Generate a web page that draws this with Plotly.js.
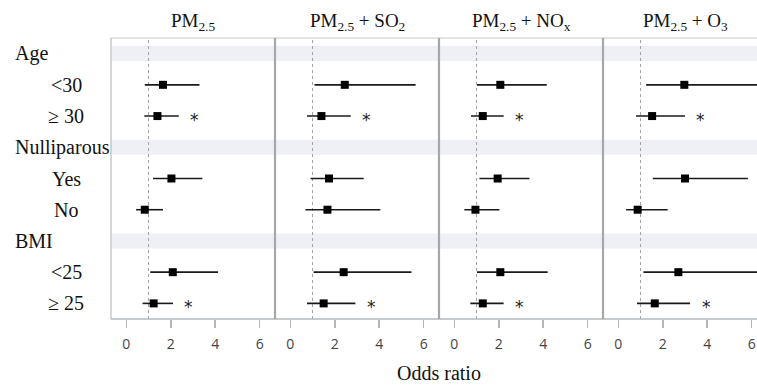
<!DOCTYPE html>
<html>
<head>
<meta charset="utf-8">
<script src="https://cdn.plot.ly/plotly-3.0.1.min.js"></script>
<style>html,body{margin:0;padding:0;background:#fff;}#chart{width:757px;height:385px;}</style>
</head>
<body>
<div id="chart"></div>
<script>
// ---- data ----
const panelTitles = ['PM<sub>2.5</sub>', 'PM<sub>2.5</sub> + SO<sub>2</sub>', 'PM<sub>2.5</sub> + NO<sub>x</sub>', 'PM<sub>2.5</sub> + O<sub>3</sub>'];
const groupLabels = ['Age', 'Nulliparous', 'BMI'];
const groupRows = [0, 3, 6];
const subLabels = ['<30', '\u2265 30', 'Yes', 'No', '<25', '\u2265 25'];
const subRows = [1, 2, 4, 5, 7, 8];
const significant = [false, true, false, false, false, true];

const pm25Est = [1.65, 1.40, 2.03, 0.83, 2.09, 1.23];
const pm25Lo  = [0.83, 0.81, 1.20, 0.44, 1.08, 0.73];
const pm25Hi  = [3.29, 2.36, 3.42, 1.65, 4.13, 2.10];

const so2Est = [2.45, 1.40, 1.74, 1.67, 2.40, 1.50];
const so2Lo  = [1.09, 0.75, 0.91, 0.68, 1.05, 0.75];
const so2Hi  = [5.64, 2.72, 3.30, 4.05, 5.45, 2.93];

const noxEst = [2.07, 1.28, 1.95, 0.95, 2.07, 1.28];
const noxLo  = [1.02, 0.75, 1.13, 0.45, 1.02, 0.72];
const noxHi  = [4.16, 2.22, 3.38, 2.03, 4.20, 2.22];

const o3Est = [2.97, 1.52, 3.00, 0.87, 2.70, 1.64];
const o3Lo  = [1.25, 0.80, 1.55, 0.35, 1.13, 0.84];
const o3Hi  = [6.60, 3.00, 5.83, 2.22, 6.50, 3.23];

const xTicks = [0, 2, 4, 6];
const nullValue = 1;

// ---- layout constants ----
const W = 757, H = 385;
const ML = 111, MR = 0, MT = 38, MB = 66;
const plotW = W - ML - MR;
const panelPx = 164;
const unitPx = 22.22;
const xMin = -0.69;
const serif = 'Liberation Serif, Times New Roman, serif';
const sans = 'Open Sans, Segoe UI, DejaVu Sans, sans-serif';

const panels = [
  {est: pm25Est, lo: pm25Lo, hi: pm25Hi},
  {est: so2Est, lo: so2Lo, hi: so2Hi},
  {est: noxEst, lo: noxLo, hi: noxHi},
  {est: o3Est, lo: o3Lo, hi: o3Hi}
];

const px2paper = p => (p - ML) / plotW;
const traces = [];
const layout = {
  width: W, height: H,
  margin: {l: ML, r: MR, t: MT, b: MB, pad: 0},
  paper_bgcolor: '#fff', plot_bgcolor: '#fff',
  showlegend: false,
  yaxis: {range: [8.5, -0.5], showticklabels: false, showgrid: false, zeroline: false, showline: false, ticks: '', fixedrange: true},
  shapes: [], annotations: []
};

// background bands for group rows
groupRows.forEach(r => {
  layout.shapes.push({type: 'rect', xref: 'paper', yref: 'y', x0: 0, x1: 1, y0: r - 0.24, y1: r + 0.24,
    fillcolor: '#eff0f5', line: {width: 0}, layer: 'below'});
});

panels.forEach((p, i) => {
  const ax = i === 0 ? 'x' : 'x' + (i + 1);
  const axKey = i === 0 ? 'xaxis' : 'xaxis' + (i + 1);
  const d0 = i * panelPx / plotW;
  const d1 = Math.min(1, (i + 1) * panelPx / plotW);
  const widthPx = (d1 - d0) * plotW;
  layout[axKey] = {
    domain: [d0, d1], anchor: 'y',
    range: [xMin, xMin + widthPx / unitPx],
    tickvals: xTicks, ticktext: xTicks.map(String),
    ticks: 'outside', ticklen: 8, tickwidth: 1.5, tickcolor: '#b4b8bc',
    ticklabelstandoff: 4,
    tickfont: {family: sans, size: 14, color: '#444'},
    showgrid: false, zeroline: false, showline: false, fixedrange: true
  };
  // reference line at OR = 1
  layout.shapes.push({type: 'line', xref: ax, yref: 'paper', x0: nullValue, x1: nullValue, y0: 0, y1: 1,
    line: {color: '#a0a0a0', width: 1, dash: 'dot'}, layer: 'below'});
  // estimates with CIs
  traces.push({
    type: 'scatter', mode: 'markers', xaxis: ax, yaxis: 'y',
    x: p.est, y: subRows,
    marker: {symbol: 'square', size: 8, color: '#000'},
    error_x: {type: 'data', symmetric: false,
      array: p.hi.map((h, k) => h - p.est[k]),
      arrayminus: p.lo.map((l, k) => p.est[k] - l),
      width: 0, thickness: 1.6, color: '#1a1a1a'},
    cliponaxis: true, hoverinfo: 'skip'
  });
  // significance asterisks
  significant.forEach((s, k) => {
    if (s) {
      layout.annotations.push({xref: ax, yref: 'y', x: p.hi[k] + 0.72, y: subRows[k], text: '*', showarrow: false,
        xanchor: 'center', yanchor: 'middle', yshift: -4,
        font: {family: 'DejaVu Sans, sans-serif', size: 17, color: '#222'}});
    }
  });
  // panel title
  layout.annotations.push({xref: 'paper', yref: 'paper', x: px2paper(ML + i * panelPx + panelPx / 2), y: 1 + 16 / (H - MT - MB),
    text: panelTitles[i], showarrow: false, xanchor: 'center', yanchor: 'middle',
    font: {family: serif, size: 19, color: '#111'}});
});

// borders and separators
layout.shapes.push({type: 'line', xref: 'paper', yref: 'paper', x0: 0, x1: 1, y0: 1, y1: 1, line: {color: '#c6cacd', width: 1.2}});
layout.shapes.push({type: 'line', xref: 'paper', yref: 'paper', x0: 0, x1: 1, y0: 0, y1: 0, line: {color: '#b4b8bc', width: 1.5}});
layout.shapes.push({type: 'line', xref: 'paper', yref: 'paper', x0: 0, x1: 0, y0: 0, y1: 1, line: {color: '#b8bcc0', width: 1.2}});
[1, 2, 3].forEach(i => {
  const xp = i * panelPx / plotW;
  layout.shapes.push({type: 'line', xref: 'paper', yref: 'paper', x0: xp, x1: xp, y0: 0, y1: 1, line: {color: '#a4a8ac', width: 2.2}});
});

// row labels
groupLabels.forEach((g, k) => {
  layout.annotations.push({xref: 'paper', yref: 'y', x: px2paper(13), y: groupRows[k], text: g, showarrow: false,
    xanchor: 'left', yanchor: 'middle', font: {family: serif, size: 20, color: '#111'}});
});
subLabels.forEach((s, k) => {
  layout.annotations.push({xref: 'paper', yref: 'y', x: px2paper(66), y: subRows[k], text: s.replace('<', '&lt;'), showarrow: false,
    xanchor: 'center', yanchor: 'middle', font: {family: serif, size: 20, color: '#111'}});
});

// x-axis title
layout.annotations.push({xref: 'paper', yref: 'paper', x: px2paper(439), y: -(373 - (H - MB)) / (H - MT - MB),
  text: 'Odds ratio', showarrow: false, xanchor: 'center', yanchor: 'middle',
  font: {family: serif, size: 20, color: '#111'}});

Plotly.newPlot('chart', traces, layout, {staticPlot: true, displayModeBar: false});
</script>
</body>
</html>
